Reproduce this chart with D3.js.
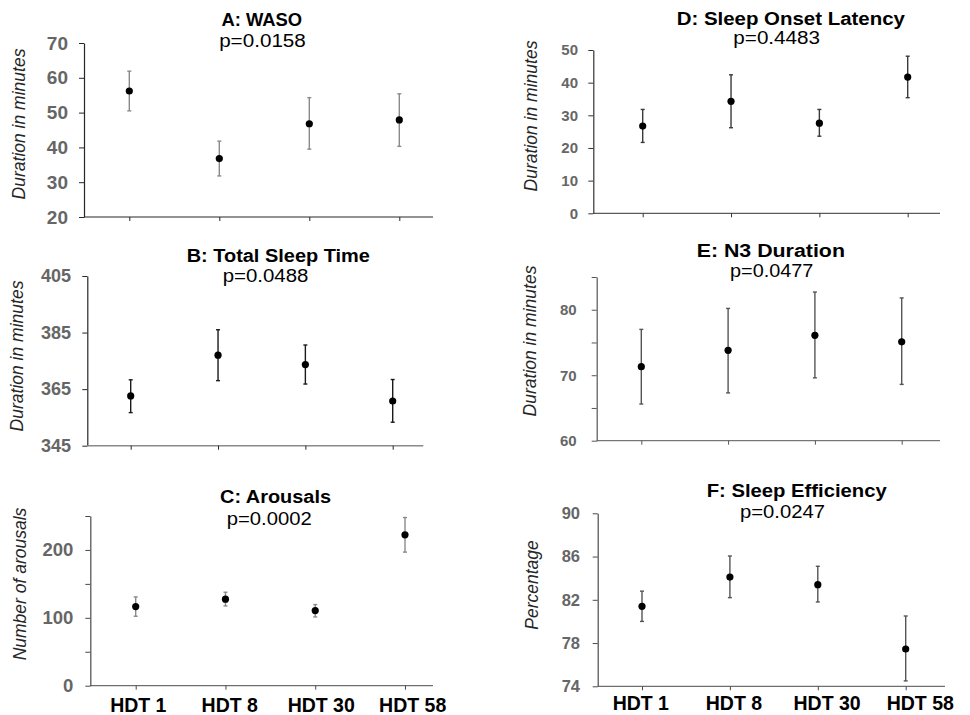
<!DOCTYPE html>
<html>
<head>
<meta charset="utf-8">
<script src="https://cdn.jsdelivr.net/npm/d3@7"></script>
<style>
  html, body { margin: 0; padding: 0; background: #fff; }
  svg { display: block; }
</style>
</head>
<body>
<svg id="chart" width="970" height="715"></svg>
<script>
// ---------------- DATA ----------------
const categories = ["HDT 1", "HDT 8", "HDT 30", "HDT 58"];

const panelTitles = ["A: WASO", "B: Total Sleep Time", "C: Arousals",
                     "D: Sleep Onset Latency", "E: N3 Duration", "F: Sleep Efficiency"];
const pValues = ["p=0.0158", "p=0.0488", "p=0.0002", "p=0.4483", "p=0.0477", "p=0.0247"];
const yLabels = ["Duration in minutes", "Duration in minutes", "Number of arousals",
                 "Duration in minutes", "Duration in minutes", "Percentage"];

const wasoMean = [56.2, 36.8, 46.8, 47.9];
const wasoLow  = [50.5, 31.8, 39.5, 40.3];
const wasoHigh = [61.9, 41.8, 54.3, 55.4];

const tstMean = [362.6, 377.0, 373.7, 360.8];
const tstLow  = [356.7, 368.0, 366.8, 353.3];
const tstHigh = [368.3, 386.0, 380.6, 368.4];

const arousalMean = [116.5, 127.4, 110.6, 222.3];
const arousalLow  = [102.3, 117.5, 101.3, 196.8];
const arousalHigh = [130.8, 137.7, 119.5, 247.8];

const solMean = [26.7, 34.3, 27.6, 41.7];
const solLow  = [21.7, 26.2, 23.6, 35.4];
const solHigh = [31.8, 42.4, 31.8, 48.1];

const n3Mean = [71.3, 73.8, 76.1, 75.1];
const n3Low  = [65.6, 67.3, 69.6, 68.6];
const n3High = [77.0, 80.2, 82.7, 81.8];

const seMean = [81.4, 84.1, 83.4, 77.45];
const seLow  = [80.0, 82.2, 81.8, 74.5];
const seHigh = [82.8, 86.05, 85.1, 80.5];

const wasoTicks = [20, 30, 40, 50, 60, 70];
const tstTicks = [345, 365, 385, 405];
const arousalTicks = [0, 50, 100, 150, 200, 250];
const arousalTickLabels = ["0", "", "100", "", "200", ""];
const solTicks = [0, 10, 20, 30, 40, 50];
const n3Ticks = [60, 65, 70, 75, 80, 85];
const n3TickLabels = ["60", "", "70", "", "80", ""];
const seTicks = [74, 78, 82, 86, 90];

// ---------------- LAYOUT (per panel) ----------------
const panels = [
  { mean: wasoMean, low: wasoLow, high: wasoHigh, ticks: wasoTicks, tickLabels: null,
    axisX: 84, xEnd: 433, yTop: 43, yBot: 217, cx: [129.3, 399.3],
    tickFont: 19, labelRight: 68, axisCol: "#262626", xAxisCol: "#262626", xAxisW: 1, errCol: "#8a8a8a",
    title: [261.8, 25.7, 80.7], p: [262.5, 47.3, 86.7], ylab: [25, 124], xlabels: null },
  { mean: tstMean, low: tstLow, high: tstHigh, ticks: tstTicks, tickLabels: null,
    axisX: 87.3, xEnd: 423.3, yTop: 276, yBot: 445.7, cx: [130.7, 392.7],
    tickFont: 18, labelRight: 71, axisCol: "#262626", xAxisCol: "#8a8a8a", xAxisW: 1.6, errCol: "#1a1a1a",
    title: [278.3, 262.3, 183.3], p: [265.5, 281.7, 85.7], ylab: [23.3, 356], xlabels: null },
  { mean: arousalMean, low: arousalLow, high: arousalHigh, ticks: arousalTicks, tickLabels: arousalTickLabels,
    axisX: 90.3, xEnd: 433, yTop: 516, yBot: 685.7, cx: [135.7, 405],
    tickFont: 18.5, labelRight: 73.3, axisCol: "#4a4a4a", xAxisCol: "#4a4a4a", xAxisW: 1, errCol: "#8a8a8a",
    title: [275.5, 503.3, 111], p: [269.2, 525, 85], ylab: [26, 584], xlabels: [138.3, 412.7, 712] },
  { mean: solMean, low: solLow, high: solHigh, ticks: solTicks, tickLabels: null,
    axisX: 593.3, xEnd: 940, yTop: 50, yBot: 213.3, cx: [642.7, 907.7],
    tickFont: 15, labelRight: 578, axisCol: "#333", xAxisCol: "#333", xAxisW: 1, errCol: "#3a3a3a",
    title: [790.8, 25, 228.3], p: [776.7, 44, 86.7], ylab: [537, 116], xlabels: null },
  { mean: n3Mean, low: n3Low, high: n3High, ticks: n3Ticks, tickLabels: n3TickLabels,
    axisX: 596.7, xEnd: 940, yTop: 277, yBot: 440.7, cx: [641.3, 901.7],
    tickFont: 15, labelRight: 576.7, axisCol: "#555", xAxisCol: "#555", xAxisW: 1, errCol: "#555",
    title: [770.8, 256.7, 148.3], p: [771.7, 277.3, 83.3], ylab: [535.7, 341], xlabels: null },
  { mean: seMean, low: seLow, high: seHigh, ticks: seTicks, tickLabels: null,
    axisX: 597.7, xEnd: 945, yTop: 513.3, yBot: 686.3, cx: [642, 905.7],
    tickFont: 16.5, labelRight: 580, axisCol: "#4a4a4a", xAxisCol: "#4a4a4a", xAxisW: 1, errCol: "#555",
    title: [796.7, 497.3, 180], p: [782.5, 518.3, 85], ylab: [538, 585], xlabels: [640.8, 920.3, 710] }
];

const svg = d3.select("#chart");
const FONT = "'Liberation Sans', Arial, Helvetica, sans-serif";

panels.forEach((P, i) => {
  const g = svg.append("g");
  const y = d3.scaleLinear()
    .domain([P.ticks[0], P.ticks[P.ticks.length - 1]])
    .range([P.yBot, P.yTop]);
  const x = d3.scalePoint().domain(categories).range(P.cx);

  // Y axis
  const yAxis = d3.axisLeft(y)
    .tickValues(P.ticks)
    .tickSize(5)
    .tickSizeOuter(0)
    .tickPadding(P.axisX - 5 - P.labelRight)
    .tickFormat((d, k) => P.tickLabels ? P.tickLabels[k] : String(d));
  const ya = g.append("g").attr("transform", `translate(${P.axisX},0)`).call(yAxis);
  ya.select(".domain").attr("stroke", P.axisCol).attr("stroke-width", 1.2);
  ya.selectAll(".tick line").attr("stroke", P.axisCol).attr("stroke-width", 1);
  ya.selectAll(".tick text")
    .attr("fill", "#666")
    .style("font-family", FONT)
    .style("font-weight", "bold")
    .style("font-size", P.tickFont + "px");

  // X axis line (manual extent) + ticks from point scale
  g.append("line")
    .attr("x1", P.axisX).attr("x2", P.xEnd)
    .attr("y1", P.yBot).attr("y2", P.yBot)
    .attr("stroke", P.xAxisCol).attr("stroke-width", P.xAxisW);
  const xAxis = d3.axisBottom(x).tickSize(4).tickSizeOuter(0).tickFormat("");
  const xa = g.append("g").attr("transform", `translate(0,${P.yBot})`).call(xAxis);
  xa.select(".domain").remove();
  xa.selectAll(".tick line").attr("stroke", P.axisCol);

  // Category labels
  if (P.xlabels) {
    const xl = d3.scalePoint().domain(categories).range([P.xlabels[0], P.xlabels[1]]);
    g.selectAll("text.xl").data(categories).enter().append("text")
      .attr("class", "xl")
      .attr("x", d => xl(d))
      .attr("y", P.xlabels[2])
      .attr("text-anchor", "middle")
      .style("font-family", FONT)
      .style("font-weight", "bold")
      .style("font-size", "19.5px")
      .attr("fill", "#000")
      .text(d => d);
  }

  // Error bars
  const rows = categories.map((c, k) => ({ c, m: P.mean[k], lo: P.low[k], hi: P.high[k] }));
  g.selectAll("line.err").data(rows).enter().append("line")
    .attr("x1", d => x(d.c)).attr("x2", d => x(d.c))
    .attr("y1", d => y(d.lo)).attr("y2", d => y(d.hi))
    .attr("stroke", P.errCol).attr("stroke-width", 1.4);
  ["lo", "hi"].forEach(key => {
    g.selectAll("line.cap" + key).data(rows).enter().append("line")
      .attr("x1", d => x(d.c) - 2).attr("x2", d => x(d.c) + 2)
      .attr("y1", d => y(d[key])).attr("y2", d => y(d[key]))
      .attr("stroke", P.errCol).attr("stroke-width", 1.4);
  });
  g.selectAll("circle.pt").data(rows).enter().append("circle")
    .attr("cx", d => x(d.c)).attr("cy", d => y(d.m)).attr("r", 3.6)
    .attr("fill", "#000");

  // Title and p-value
  g.append("text")
    .attr("x", P.title[0]).attr("y", P.title[1])
    .attr("text-anchor", "middle")
    .attr("textLength", P.title[2]).attr("lengthAdjust", "spacingAndGlyphs")
    .style("font-family", FONT).style("font-weight", "bold").style("font-size", "17.5px")
    .attr("fill", "#000")
    .text(panelTitles[i]);
  g.append("text")
    .attr("x", P.p[0]).attr("y", P.p[1])
    .attr("text-anchor", "middle")
    .attr("textLength", P.p[2]).attr("lengthAdjust", "spacingAndGlyphs")
    .style("font-family", FONT).style("font-size", "17.5px")
    .attr("fill", "#000")
    .text(pValues[i]);

  // Y label
  g.append("text")
    .attr("transform", `translate(${P.ylab[0]},${P.ylab[1]}) rotate(-90)`)
    .attr("text-anchor", "middle")
    .style("font-family", FONT).style("font-style", "italic").style("font-size", "17.5px")
    .attr("fill", "#262626")
    .text(yLabels[i]);
});
</script>
</body>
</html>
